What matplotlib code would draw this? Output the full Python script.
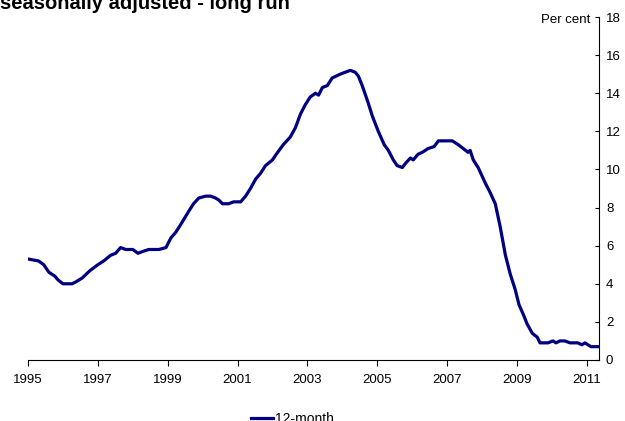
import matplotlib.pyplot as plt
from matplotlib.lines import Line2D

plt.rcParams['font.family'] = ['Liberation Sans', 'DejaVu Sans']

# decimal year, percent (12-month rate)
years = [1995.0, 1995.3, 1995.45, 1995.6, 1995.77, 1995.86, 1996.0, 1996.26, 1996.37,
         1996.55, 1996.78, 1997.0, 1997.17, 1997.37, 1997.51, 1997.65, 1997.8, 1998.0,
         1998.15, 1998.29, 1998.46, 1998.75, 1998.95, 1999.09, 1999.23, 1999.37, 1999.6,
         1999.74, 1999.89, 2000.09, 2000.23, 2000.37, 2000.46, 2000.57, 2000.74, 2000.89,
         2001.09, 2001.23, 2001.37, 2001.52, 2001.66, 2001.8, 2002.0, 2002.11, 2002.31,
         2002.51, 2002.66, 2002.8, 2002.94, 2003.08, 2003.23, 2003.32, 2003.43, 2003.57,
         2003.71, 2003.94, 2004.08, 2004.23, 2004.37, 2004.46, 2004.57, 2004.74, 2004.86,
         2005.03, 2005.2, 2005.32, 2005.46, 2005.57, 2005.72, 2005.8, 2005.95, 2006.03,
         2006.17, 2006.29, 2006.46, 2006.63, 2006.75, 2006.95, 2007.15, 2007.32, 2007.46,
         2007.6, 2007.66, 2007.75, 2007.89, 2008.09, 2008.23, 2008.38, 2008.52, 2008.67,
         2008.81, 2008.95, 2009.06, 2009.18, 2009.29, 2009.44, 2009.58, 2009.66, 2009.89,
         2010.03, 2010.12, 2010.23, 2010.37, 2010.52, 2010.74, 2010.86, 2010.95, 2011.03,
         2011.12, 2011.34]
rate = [5.3, 5.2, 5.0, 4.6, 4.4, 4.2, 4.0, 4.0, 4.1,
        4.3, 4.7, 5.0, 5.2, 5.5, 5.6, 5.9, 5.8, 5.8,
        5.6, 5.7, 5.8, 5.8, 5.9, 6.4, 6.7, 7.1, 7.8,
        8.2, 8.5, 8.6, 8.6, 8.5, 8.4, 8.2, 8.2, 8.3,
        8.3, 8.6, 9.0, 9.5, 9.8, 10.2, 10.5, 10.8, 11.3,
        11.7, 12.2, 12.9, 13.4, 13.8, 14.0, 13.9, 14.3, 14.4,
        14.8, 15.0, 15.1, 15.2, 15.1, 14.9, 14.4, 13.5, 12.8,
        12.0, 11.3, 11.0, 10.5, 10.2, 10.1, 10.3, 10.6, 10.5,
        10.8, 10.9, 11.1, 11.2, 11.5, 11.5, 11.5, 11.3, 11.1,
        10.9, 11.0, 10.5, 10.1, 9.3, 8.8, 8.2, 7.0, 5.5,
        4.5, 3.7, 2.9, 2.4, 1.9, 1.4, 1.2, 0.9, 0.9,
        1.0, 0.9, 1.0, 1.0, 0.9, 0.9, 0.8, 0.9, 0.8,
        0.7, 0.7]

tick_years = [1995, 1997, 1999, 2001, 2003, 2005, 2007, 2009, 2011]
y_ticks = [0, 2, 4, 6, 8, 10, 12, 14, 16, 18]

fig = plt.figure(figsize=(6.25, 4.21), dpi=100)
ax = fig.add_axes([0.0448, 0.1449, 0.9136, 0.8147])

ax.plot(years, rate, color='#000080', linewidth=2.3, solid_joinstyle='round')

ax.set_xlim(1995.0, 2011.35)
ax.set_ylim(0, 18)

for s in ['left', 'top']:
    ax.spines[s].set_visible(False)
ax.spines['right'].set_linewidth(0.8)
ax.spines['bottom'].set_linewidth(0.8)

ax.yaxis.tick_right()
ax.set_yticks(y_ticks)
ax.set_xticks(tick_years)
ax.set_xticklabels([str(y) for y in tick_years])
ax.tick_params(axis='y', direction='in', length=3, width=0.8, pad=5, labelsize=9.5)
ax.tick_params(axis='x', direction='out', length=4, width=0.8, pad=6, labelsize=9.5)

fig.text(0.945, 0.952, 'Per cent', ha='right', va='center', fontsize=9.5)
# title block is cropped at the top in the original
fig.text(0.0, 1 - 9 / 421, 'seasonally adjusted - long run', ha='left', va='baseline',
         fontsize=14.5, fontweight='bold')

handle = Line2D([], [], color='#000080', linewidth=2.3)
fig.legend([handle], ['12-month'], loc='center', bbox_to_anchor=(0.468, 0.004),
           frameon=False, fontsize=10, handlelength=1.6, handletextpad=0.1)

fig.savefig('out.png', dpi=100)
